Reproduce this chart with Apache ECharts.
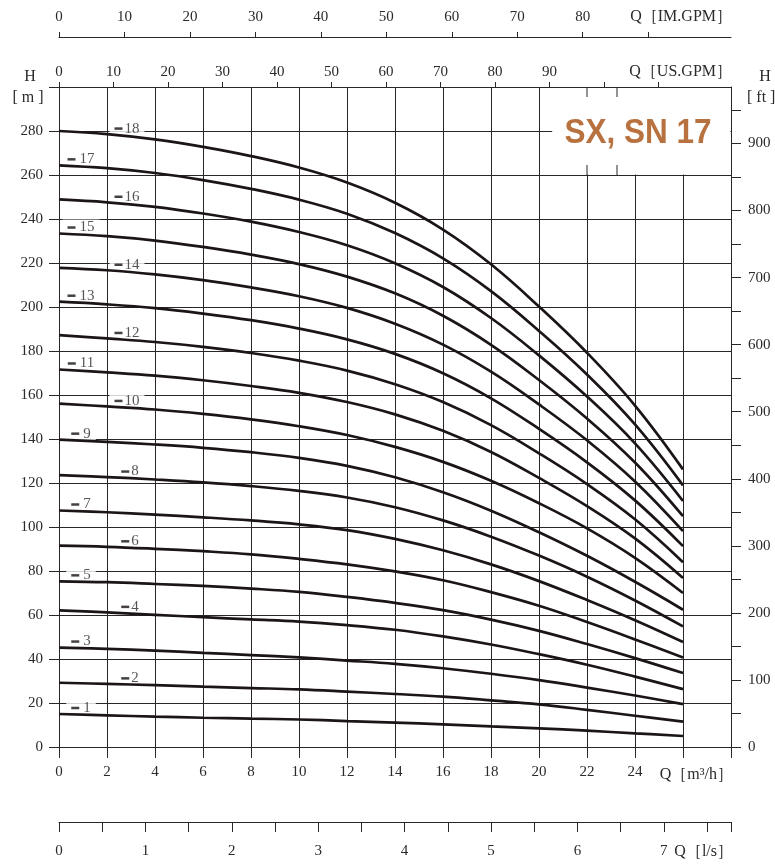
<!DOCTYPE html>
<html><head><meta charset="utf-8">
<script src="https://cdn.jsdelivr.net/npm/echarts@6/dist/echarts.min.js"></script>
<style>html,body{margin:0;padding:0;background:#fff}#c{width:775px;height:866px}</style>
</head><body><div id="c"></div>
<script>
// ---- data ----
const flowQ = [0, 2, 4, 6, 8, 10, 12, 14, 16, 18, 20, 22, 24, 26]; // m3/h
const head1  = [15.0, 14.4, 13.8, 13.3, 12.9, 12.5, 11.8, 11.1, 10.3, 9.4, 8.5, 7.4, 6.2, 5.0];
const head2  = [29.2, 28.7, 28.1, 27.4, 26.8, 26.2, 25.2, 24.1, 22.9, 21.2, 19.4, 16.9, 14.2, 11.5];
const head3  = [45.2, 44.6, 43.8, 42.8, 41.8, 40.7, 39.3, 37.8, 35.8, 33.3, 30.4, 27.0, 23.4, 19.5];
const head4  = [62.1, 61.2, 60.1, 59.0, 58.0, 57.0, 55.4, 53.3, 50.3, 46.6, 42.2, 37.4, 32.0, 26.3];
const head5  = [75.3, 74.9, 74.1, 73.2, 72.0, 70.5, 68.2, 65.5, 62.2, 57.9, 52.8, 46.8, 40.4, 33.6];
const head6  = [91.5, 91.0, 90.1, 89.0, 87.6, 85.5, 83.0, 79.8, 75.8, 70.4, 64.2, 56.8, 48.9, 40.7];
const head7  = [107.5, 106.7, 105.6, 104.4, 103.0, 101.2, 98.6, 94.6, 89.4, 83.0, 75.4, 66.8, 57.6, 47.7];
const head8  = [123.6, 122.7, 121.6, 120.3, 118.6, 116.4, 113.4, 109.0, 103.0, 95.6, 87.0, 77.4, 66.6, 54.8];
const head9  = [139.7, 138.7, 137.5, 136.0, 134.0, 131.4, 127.8, 122.6, 115.8, 107.4, 97.6, 86.9, 75.1, 62.4];
const head10 = [156.1, 154.8, 153.4, 151.4, 148.9, 145.8, 141.8, 136.4, 129.6, 121.0, 110.8, 99.4, 86.0, 70.0];
const head11 = [171.6, 170.3, 168.8, 166.7, 164.1, 161.0, 156.8, 151.2, 143.7, 134.1, 122.3, 109.5, 94.8, 76.8];
const head12 = [187.2, 185.7, 184.1, 181.9, 179.1, 175.6, 171.1, 164.9, 156.8, 146.3, 133.5, 119.5, 103.5, 84.0];
const head13 = [202.4, 201.2, 199.5, 197.0, 194.0, 190.2, 185.3, 178.7, 169.9, 158.5, 144.6, 129.4, 112.1, 91.3];
const head14 = [217.8, 216.7, 214.8, 212.2, 208.9, 204.9, 199.6, 192.4, 182.9, 170.6, 155.7, 139.4, 120.7, 98.1];
const head15 = [233.4, 232.2, 230.2, 227.3, 223.8, 219.5, 213.8, 206.2, 196.0, 182.8, 166.8, 149.3, 129.3, 104.9];
const head16 = [248.9, 247.6, 245.5, 242.5, 238.8, 234.1, 228.1, 219.9, 209.1, 195.0, 178.0, 159.3, 138.0, 111.8];
const head17 = [264.4, 263.1, 260.9, 257.7, 253.7, 248.8, 242.4, 233.6, 222.1, 207.2, 189.1, 169.3, 146.6, 118.9];
const head18 = [280.0, 278.6, 276.2, 272.8, 268.6, 263.4, 256.6, 247.4, 235.2, 219.4, 200.2, 179.2, 155.2, 126.2];
const curves = [head1, head2, head3, head4, head5, head6, head7, head8, head9,
                head10, head11, head12, head13, head14, head15, head16, head17, head18];

// tick label values
const m3hLabels   = [0, 2, 4, 6, 8, 10, 12, 14, 16, 18, 20, 22, 24];
const headLabels  = [0, 20, 40, 60, 80, 100, 120, 140, 160, 180, 200, 220, 240, 260, 280];
const usGpmLabels = [0, 10, 20, 30, 40, 50, 60, 70, 80, 90];
const usGpmTicks  = [0, 10, 20, 30, 40, 50, 60, 70, 80, 90, 100, 110];
const imGpmLabels = [0, 10, 20, 30, 40, 50, 60, 70, 80];
const imGpmTicks  = [0, 10, 20, 30, 40, 50, 60, 70, 80, 90];
const lpsLabels   = [0, 1, 2, 3, 4, 5, 6, 7];
const ftLabels    = [0, 100, 200, 300, 400, 500, 600, 700, 800, 900];
const ftTicks     = [0, 50, 100, 150, 200, 250, 300, 350, 400, 450, 500, 550, 600, 650, 700, 750, 800, 850, 900, 950];

// unit conversions
const M3H_PER_USGPM = 0.2271247, M3H_PER_IMGPM = 0.2727654, M3H_PER_LPS = 3.6, M_PER_FT = 0.3048;
const Q_MAX = 28, H_MAX = 300;

// ---- styles ----
const INK = '#2b2626', TXT = '#2a2a2a';
const SERIF = '"Liberation Serif", "Times New Roman", serif';
const lineSt = {color: INK, width: 1};
const lab = (extra) => Object.assign({color: TXT, fontFamily: SERIF, fontSize: 15}, extra);

const chart = echarts.init(document.getElementById('c'), null, {renderer: 'canvas'});

const curveSeries = curves.map((c, i) => ({
  type: 'line', name: String(i + 1), xAxisIndex: 0, yAxisIndex: 0,
  data: flowQ.map((q, k) => [q, c[k]]),
  showSymbol: false, smooth: 0.4, z: 3,
  lineStyle: {color: '#1c1516', width: 2.7}, silent: true
}));

const labelData = curves.map((c, i) => {
  const n = i + 1, odd = n % 2 === 1, idx = odd ? 0 : 1;
  return {
    name: String(n), value: [flowQ[idx], c[idx]],
    label: {offset: [odd ? 22 : (n >= 10 ? 20 : 23), odd ? -6 : -5.5],
            formatter: odd ? '{d| }{g| }{n|' + n + '}' : '{d| }{h| }{n|' + n + '}'}
  };
});

const option = {
  animation: false,
  backgroundColor: '#fff',
  grid: [{left: 59, top: 87, width: 672, height: 660, outerBoundsMode: 'none'}],
  xAxis: [
    {type: 'value', gridIndex: 0, position: 'bottom', min: 0, max: Q_MAX, interval: 2,
     axisLine: {show: true, onZero: false, lineStyle: lineSt},
     axisTick: {show: true, length: 11, lineStyle: lineSt},
     axisLabel: lab({margin: 18, customValues: m3hLabels}),
     splitLine: {show: true, lineStyle: lineSt}},
    {type: 'value', gridIndex: 0, position: 'top', min: 0, max: Q_MAX / M3H_PER_USGPM, interval: 10,
     axisLine: {show: true, onZero: false, lineStyle: lineSt},
     axisTick: {show: true, length: 5, lineStyle: lineSt, customValues: usGpmTicks},
     axisLabel: lab({margin: 7, customValues: usGpmLabels}),
     splitLine: {show: false}},
    {type: 'value', gridIndex: 0, position: 'top', offset: 50, min: 0, max: Q_MAX / M3H_PER_IMGPM, interval: 10,
     axisLine: {show: true, onZero: false, lineStyle: lineSt},
     axisTick: {show: true, length: 5, lineStyle: lineSt, customValues: imGpmTicks},
     axisLabel: lab({margin: 12, customValues: imGpmLabels}),
     splitLine: {show: false}},
    {type: 'value', gridIndex: 0, position: 'bottom', offset: 75, min: 0, max: Q_MAX / M3H_PER_LPS, interval: 0.5,
     axisLine: {show: true, onZero: false, lineStyle: lineSt},
     axisTick: {show: true, length: 10, lineStyle: lineSt},
     axisLabel: lab({margin: 22, customValues: lpsLabels}),
     splitLine: {show: false}}
  ],
  yAxis: [
    {type: 'value', gridIndex: 0, position: 'left', min: 0, max: H_MAX, interval: 20,
     axisLine: {show: true, onZero: false, lineStyle: lineSt},
     axisTick: {show: true, length: 10, lineStyle: lineSt},
     axisLabel: lab({margin: 16, customValues: headLabels}),
     splitLine: {show: true, lineStyle: lineSt}},
    {type: 'value', gridIndex: 0, position: 'right', min: 0, max: H_MAX / M_PER_FT, interval: 50,
     axisLine: {show: true, onZero: false, lineStyle: lineSt},
     axisTick: {show: true, length: 10, lineStyle: lineSt, customValues: ftTicks},
     axisLabel: lab({margin: 17, customValues: ftLabels}),
     splitLine: {show: false}}
  ],
  series: curveSeries.concat([{
    type: 'scatter', name: 'labels', xAxisIndex: 0, yAxisIndex: 0, z: 1, silent: true,
    symbolSize: 1, itemStyle: {color: 'rgba(0,0,0,0)'},
    data: labelData,
    label: {show: true, position: 'inside', backgroundColor: '#fff', padding: [1, 5],
            color: TXT, lineHeight: 14,
            rich: {d: {width: 8, height: 2.5, fontSize: 2, lineHeight: 2.5, backgroundColor: '#161212', verticalAlign: 'middle'},
                   g: {width: 4, fontSize: 15, fontFamily: SERIF},
                   h: {width: 2, fontSize: 15, fontFamily: SERIF},
                   n: {fontSize: 15, fontFamily: SERIF, color: TXT}}}
  }])
};
chart.setOption(option);

// ---- annotations: title box, axis names ----
const px = (q, h) => chart.convertToPixel({xAxisIndex: 0, yAxisIndex: 0}, [q, h]);
const tl = px(20.55, 300), br = px(28, 260);
const stubQs = [22, 23.25];
const elems = [
  {type: 'rect', z: 50, shape: {x: tl[0], y: tl[1] + 1, width: br[0] - tl[0] - 0.6, height: br[1] - tl[1] - 1.6},
   style: {fill: '#fff'}},
  {type: 'text', z: 60, x: 638, y: 133, scaleX: 0.9,
   style: {text: 'SX, SN 17', fill: '#b7723f', font: 'bold 35px "Liberation Sans", Arial, sans-serif',
           align: 'center', verticalAlign: 'middle'}}
];
stubQs.forEach(q => {
  const a = px(q, 300), b = px(q, 260);
  elems.push({type: 'line', z: 61, shape: {x1: a[0], y1: a[1], x2: a[0], y2: a[1] + 10}, style: {stroke: INK, lineWidth: 1}});
  elems.push({type: 'line', z: 61, shape: {x1: b[0], y1: b[1], x2: b[0], y2: b[1] - 10}, style: {stroke: INK, lineWidth: 1}});
});
const nameFont = '16px ' + SERIF;
const names = [
  ['Q［IM.GPM］', 732, 17, 'right'],
  ['Q［US.GPM］', 732, 72, 'right'],
  ['Q［m³/h］', 733, 775, 'right'],
  ['Q［l/s］', 733, 852, 'right'],
  ['H', 30, 77, 'center'],
  ['[ m ]', 28, 98, 'center'],
  ['H', 765, 77, 'center'],
  ['[ ft ]', 747, 98, 'left']
];
names.forEach(([t, x, y, al]) => elems.push({type: 'text', z: 60, x, y,
  style: {text: t, fill: TXT, font: nameFont, align: al, verticalAlign: 'middle'}}));
chart.setOption({graphic: {elements: elems}});
</script>
</body></html>
